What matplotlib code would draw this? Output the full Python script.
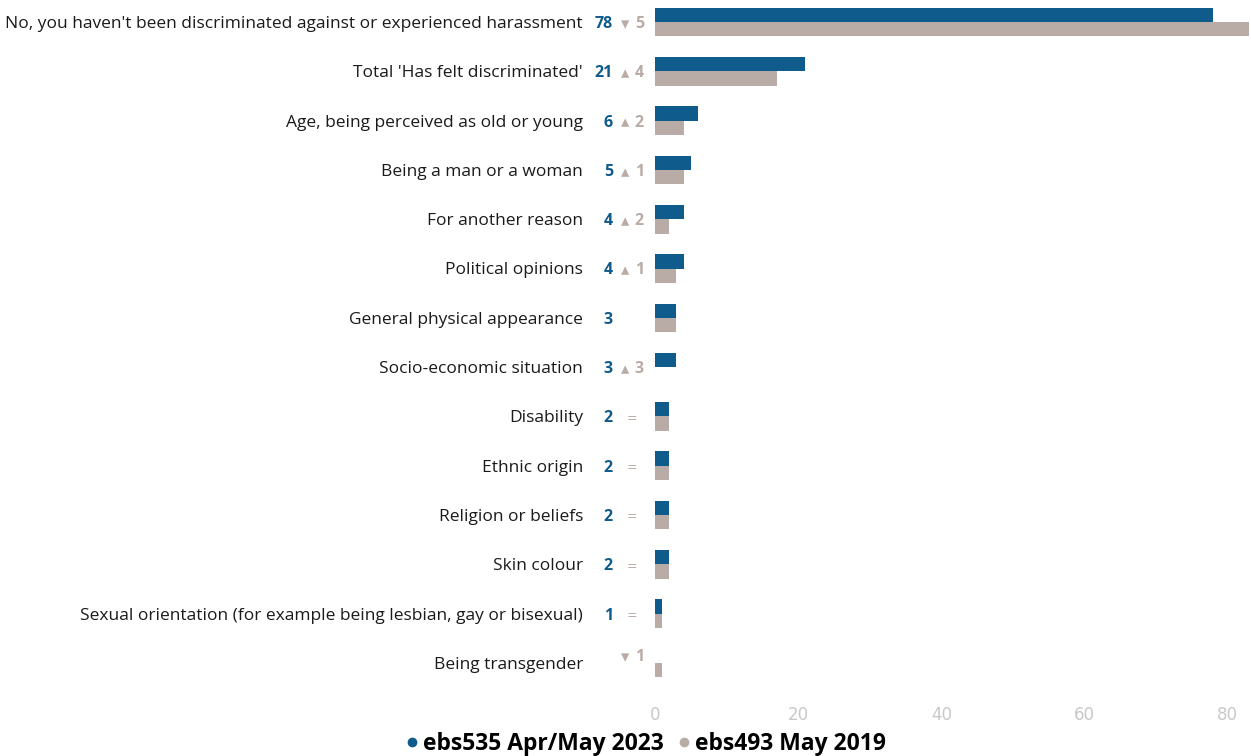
import matplotlib.pyplot as plt
from matplotlib.lines import Line2D

categories = [
    "No, you haven't been discriminated against or experienced harassment",
    "Total 'Has felt discriminated'",
    "Age, being perceived as old or young",
    "Being a man or a woman",
    "For another reason",
    "Political opinions",
    "General physical appearance",
    "Socio-economic situation",
    "Disability",
    "Ethnic origin",
    "Religion or beliefs",
    "Skin colour",
    "Sexual orientation (for example being lesbian, gay or bisexual)",
    "Being transgender",
]
values_2023 = [78, 21, 6, 5, 4, 4, 3, 3, 2, 2, 2, 2, 1, 0]
values_2019 = [83, 17, 4, 4, 2, 3, 3, 0, 2, 2, 2, 2, 1, 1]
# change vs previous wave: (direction, magnitude); None = no change label
changes = [("down", 5), ("up", 4), ("up", 2), ("up", 1), ("up", 2), ("up", 1),
           None, ("up", 3), ("eq", 0), ("eq", 0), ("eq", 0), ("eq", 0), ("eq", 0),
           ("down", 1)]
series_names = ["ebs535 Apr/May 2023", "ebs493 May 2019"]
x_ticks = [0, 20, 40, 60, 80]

BLUE = "#0e5b8c"
GREY = "#b9aca6"
TICK_GREY = "#c8c8c8"

W, H = 1251, 756
fig = plt.figure(figsize=(W / 100, H / 100), dpi=100)
ax = fig.add_axes([655 / W, 61 / H, 594 / W, 695 / H])

n = len(categories)
ys = list(range(n))
bh = 0.29
ax.barh([y - bh / 2 for y in ys], values_2023, height=bh, color=BLUE)
ax.barh([y + bh / 2 for y in ys], values_2019, height=bh, color=GREY)

ax.set_xlim(0, 83)
ax.set_ylim(13.65, -0.446)
ax.set_xticks(x_ticks)
ax.set_xticklabels([str(t) for t in x_ticks])
ax.tick_params(axis="x", length=0, colors=TICK_GREY, labelsize=12, pad=8)
ax.set_yticks([])
for s in ax.spines.values():
    s.set_visible(False)

trans = ax.get_yaxis_transform()
dy = 0.04  # nudge text down to sit on the row centre
for y, cat, v23, v19, ch in zip(ys, categories, values_2023, values_2019, changes):
    ax.text((583 - 655) / 594, y + dy, cat, transform=trans, ha="right", va="center",
            fontsize=12.5, color="#1a1a1a", family="Open Sans")
    if v23 > 0:
        ax.text((613 - 655) / 594, y + dy, str(v23), transform=trans, ha="right",
                va="center", fontsize=11.5, fontweight="bold", color=BLUE,
                family="Open Sans")
    if ch is not None:
        d, m = ch
        if d == "eq":
            ax.text((632 - 655) / 594, y + dy, "=", transform=trans, ha="center",
                    va="center", fontsize=9, color=GREY, family="DejaVu Sans")
        else:
            sym = "\u25b4" if d == "up" else "\u25be"
            yy = y + dy if v23 > 0 else y - 0.12
            ax.text((621 - 655) / 594, yy, sym, transform=trans, ha="left",
                    va="center", fontsize=12, color=GREY, family="DejaVu Sans")
            ax.text((644 - 655) / 594, yy, str(m), transform=trans, ha="right",
                    va="center", fontsize=11.5, fontweight="bold", color=GREY,
                    family="Open Sans")

handles = [Line2D([], [], marker="o", linestyle="none", color=BLUE, markersize=6),
           Line2D([], [], marker="o", linestyle="none", color=GREY, markersize=6)]
fig.legend(handles, series_names, loc="center", bbox_to_anchor=(646 / W, 1 - 744 / H),
           ncol=2, frameon=False, handlelength=0.5, handletextpad=0.25,
           columnspacing=0.6,
           prop={"family": "Open Sans", "weight": "bold", "size": 16.5})

fig.savefig("out.png", dpi=100)
